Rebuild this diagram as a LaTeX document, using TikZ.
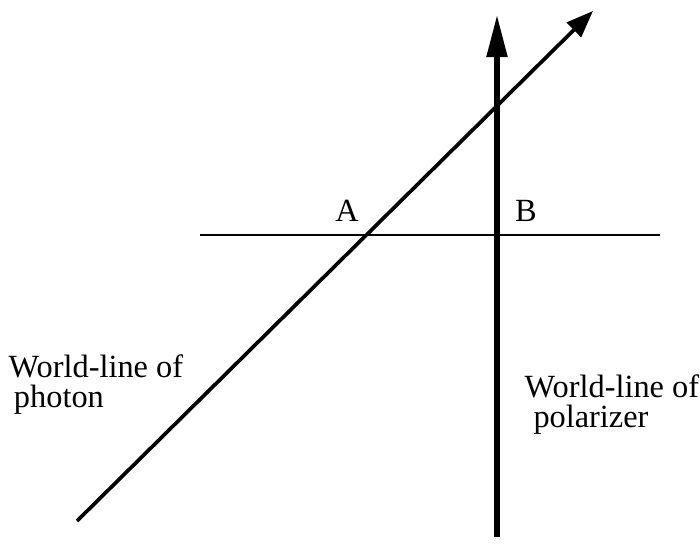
\documentclass[tikz,border=0pt]{standalone}
\usepackage{fontspec}
\setmainfont{Liberation Serif}
\usetikzlibrary{arrows.meta}

\begin{document}
\begin{tikzpicture}[x=0.01cm, y=-0.01cm,
    label text/.style={inner sep=0pt, align=left, font=\fontsize{9.2}{8.6}\selectfont},
    point text/.style={inner sep=0pt, anchor=base, font=\fontsize{9.2}{8.6}\selectfont}]
  \useasboundingbox (0,0) rectangle (700,549);
  % Simultaneity line
  \coordinate (hstart) at (200,235);
  \coordinate (hend) at (660,235);
  \draw[line width=0.3pt] (hstart) -- (hend);
  % World-line of polarizer
  \coordinate (pbottom) at (497,537);
  \coordinate (ptop) at (497,15);
  \draw[line width=1.45pt, -{Triangle[length=0.42cm, width=0.2cm]}] (pbottom) -- (ptop);
  % World-line of photon
  \coordinate (gbottom) at (77,521);
  \coordinate (gtop) at (593,11);
  \draw[line width=1.05pt, -{Triangle[length=0.27cm, width=0.2cm]}] (gbottom) -- (gtop);
  % Events
  \node[point text] (A) at (347,222) {A};
  \node[point text] (B) at (526,222) {B};
  % Labels (base is the last line)
  \node[label text, anchor=base west] (photon) at (8,408) {World-line of\\\hspace{1.5pt}photon};
  \node[label text, anchor=base west] (polarizer) at (524,428) {World-line of\\\hspace{2.5pt}polarizer};
\end{tikzpicture}
\end{document}
